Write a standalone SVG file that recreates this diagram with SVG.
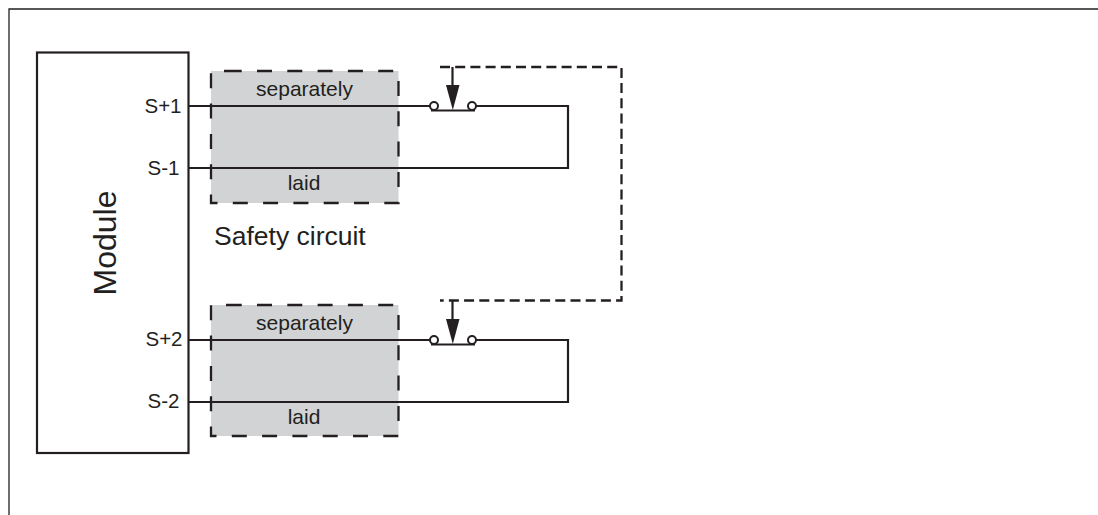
<svg xmlns="http://www.w3.org/2000/svg" width="1098" height="515" viewBox="0 0 1098 515">
<style>
.ln{fill:none;stroke:#231f20;stroke-width:2.200}
.thin{fill:none;stroke:#231f20;stroke-width:1.300}
.dash{fill:none;stroke:#231f20;stroke-width:2.300;stroke-dasharray:10 5.200}
.sdash{fill:none;stroke:#231f20;stroke-width:2.300;stroke-dasharray:15 15.300}
.gray{fill:#d1d3d4}
.t{font-family:"Liberation Sans",Arial,sans-serif;fill:#231f20}
.s{font-size:20.500px}
.w{font-size:21px}
.c{fill:#fff;stroke:#231f20;stroke-width:2}
.h{fill:#231f20}
</style>
<g id="frame"><path d="M9 515V9H1098" class="thin"/></g>
<g id="module"><rect x="37" y="52.500" width="151.500" height="400.500" class="ln"/>
<text class="t" font-size="32" transform="translate(115.500 243) rotate(-90)" text-anchor="middle">Module</text>
<text class="t s" x="181.500" y="113" text-anchor="end">S+1</text>
<text class="t s" x="179.500" y="175" text-anchor="end">S-1</text>
<text class="t s" x="182.500" y="346" text-anchor="end">S+2</text>
<text class="t s" x="179.500" y="408" text-anchor="end">S-2</text></g>
<g id="shield-1"><rect x="211" y="71" width="187.500" height="132" class="gray"/>
<path d="M226.700 71H398.500V203H211V71H226.700" class="sdash"/>
<text class="t w" x="304.500" y="96" text-anchor="middle">separately</text>
<text class="t w" x="304" y="190" text-anchor="middle">laid</text></g>
<g id="shield-2"><rect x="211" y="305" width="187.500" height="131" class="gray"/>
<path d="M226.700 305H398.500V436H211V305H226.700" class="sdash"/>
<text class="t w" x="304.500" y="330" text-anchor="middle">separately</text>
<text class="t w" x="304" y="424" text-anchor="middle">laid</text></g>
<g id="label"><text class="t" font-size="26.500" x="214" y="245">Safety circuit</text></g>
<g id="connectors">
<path d="M188 106H430M476 106H568V168H188" class="ln"/>
<path d="M188 340H430M476 340H568V402H188" class="ln"/>
<path d="M440 67H621.500V300.500H440" class="dash"/>
<path d="M452.500 67V90M452.500 300.500V323" class="ln"/>
<path d="M431 110.500H475M431 344.500H475" class="ln"/>
</g>
<g id="switch-1"><circle cx="434" cy="106" r="4" class="c"/><circle cx="472" cy="106" r="4" class="c"/>
<path d="M446 85H459.500L452.800 110Z" class="h"/></g>
<g id="switch-2"><circle cx="434" cy="340" r="4" class="c"/><circle cx="472" cy="340" r="4" class="c"/>
<path d="M446 319H459.500L452.800 344Z" class="h"/></g>
</svg>
